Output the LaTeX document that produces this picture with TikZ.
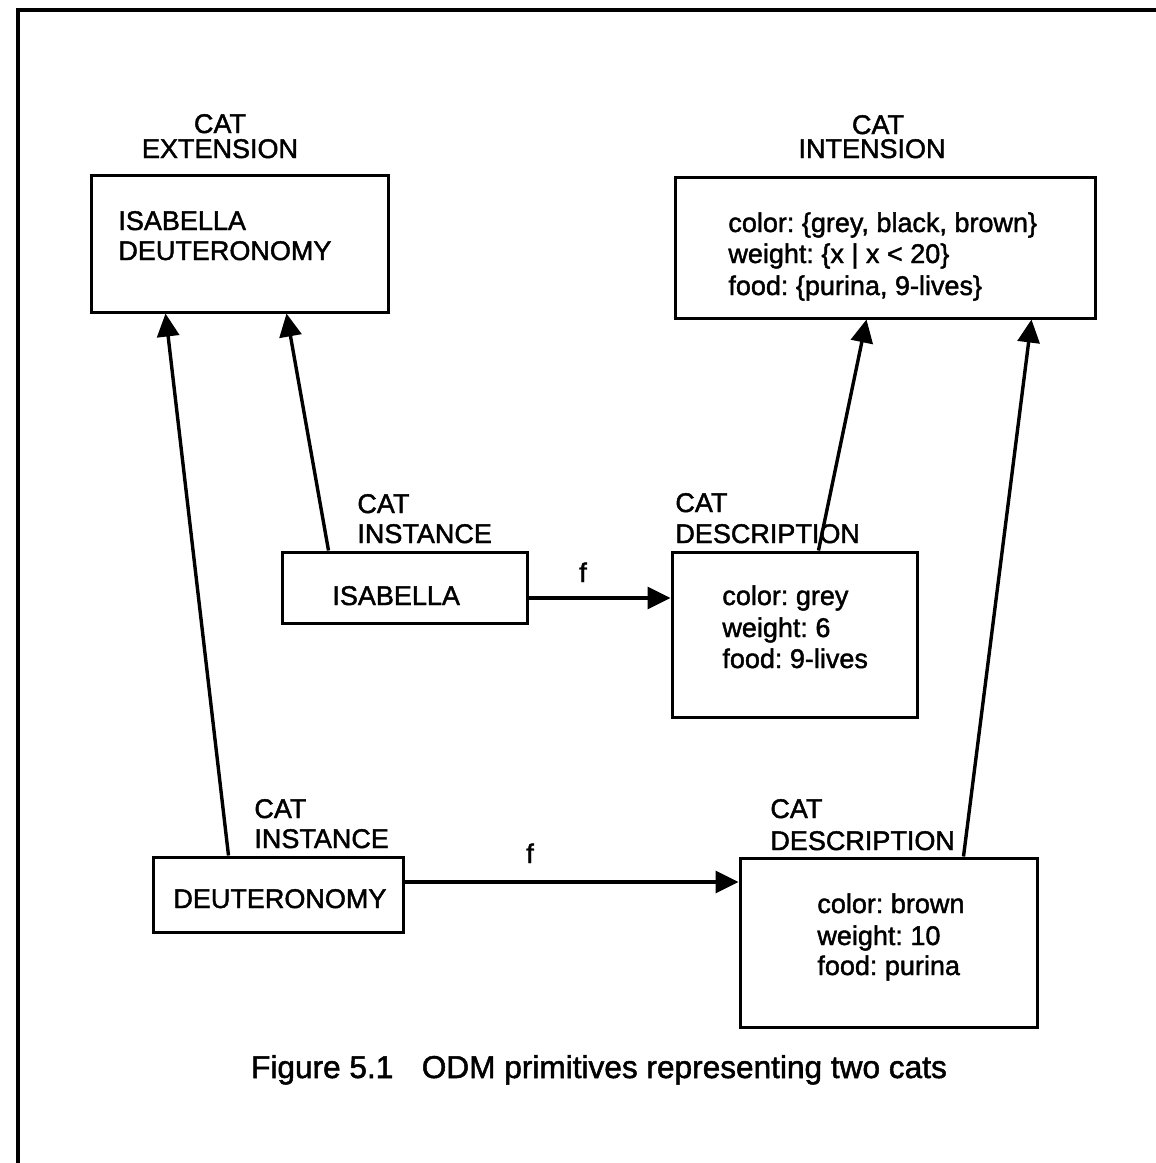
\documentclass[tikz,border=0pt]{standalone}
\usepackage{fontspec}
\setmainfont{Liberation Sans}[FakeBold=1.6]
\usetikzlibrary{arrows.meta}
\frenchspacing
\tikzset{
  box/.style={draw, line width=1.5pt, inner sep=0pt, rectangle},
  txt/.style={font=\fontsize{13.5}{16}\selectfont\frenchspacing, inner sep=0pt, anchor=base west},
  ctxt/.style={font=\fontsize{13.5}{16}\selectfont\frenchspacing, inner sep=0pt, anchor=base},
  arr/.style={line width=1.7pt, -{Triangle[length=11.5pt,width=11pt]}},
  frame/.style={line width=2pt}
}
\begin{document}
\begin{tikzpicture}[x=0.5pt,y=-0.5pt]
\useasboundingbox (0,0) rectangle (1156,1163);
% frame
\coordinate (fl) at (18,1163);
\coordinate (ftl) at (18,10);
\coordinate (ftr) at (1156,10);
\draw[frame] (fl) -- (ftl) -- (ftr);

% boxes
\node[box, minimum width=148.5pt, minimum height=68.5pt] (ext) at (239.5,243.5) {};
\node[box, minimum width=210pt, minimum height=70.5pt] (int) at (885,247.5) {};
\node[box, minimum width=122.5pt, minimum height=35.5pt] (iinst) at (404.5,587.5) {};
\node[box, minimum width=122.5pt, minimum height=82.5pt] (desc1) at (794.5,634.5) {};
\node[box, minimum width=125pt, minimum height=37.5pt] (dinst) at (278,894.5) {};
\node[box, minimum width=148.5pt, minimum height=84.5pt] (desc2) at (888.5,942.5) {};

% box labels
\node[ctxt] (extl1) at (220,133) {CAT};
\node[ctxt] (extl2) at (220,158) {EXTENSION};
\node[ctxt] (intl1) at (878,134) {CAT};
\node[ctxt] (intl2) at (872,158) {INTENSION};
\node[txt] (iinstl1) at (357,513) {CAT};
\node[txt] (iinstl2) at (357,543) {INSTANCE};
\node[txt] (desc1l1) at (675,512) {CAT};
\node[txt] (desc1l2) at (675,543) {DESCRIPTION};
\node[txt] (dinstl1) at (254,818) {CAT};
\node[txt] (dinstl2) at (254,848) {INSTANCE};
\node[txt] (desc2l1) at (770,818) {CAT};
\node[txt] (desc2l2) at (770,850) {DESCRIPTION};

% box contents
\node[txt] (ext1) at (118,230) {ISABELLA};
\node[txt] (ext2) at (118,260) {DEUTERONOMY};
\node[txt] (int1) at (728,232) {color: \{grey, black, brown\}};
\node[txt] (int2) at (728,263) {weight: \{x | x < 20\}};
\node[txt] (int3) at (728,295) {food: \{purina, 9-lives\}};
\node[txt] (iinst1) at (332,605) {ISABELLA};
\node[txt] (d11) at (722,605) {color: grey};
\node[txt] (d12) at (722,637) {weight: 6};
\node[txt] (d13) at (722,668) {food: 9-lives};
\node[txt] (dinst1) at (173,908) {DEUTERONOMY};
\node[txt] (d21) at (817,913) {color: brown};
\node[txt] (d22) at (817,945) {weight: 10};
\node[txt] (d23) at (817,975) {food: purina};

% f arrows
\coordinate (f1s) at ([yshift=-5.25pt]iinst.east);
\draw[arr] (f1s) -- (f1s -| desc1.west);
\node[ctxt] (f1) at (583,582) {f};
\coordinate (f2s) at ([yshift=6.25pt]dinst.east);
\draw[arr] (f2s) -- (f2s -| desc2.west);
\node[ctxt] (f2) at (530,863) {f};

% upward arrows
\draw[arr] ([xshift=38.5pt]dinst.north west) -- ([xshift=38pt]ext.south west);
\draw[arr] ([xshift=24pt]iinst.north west) -- ([xshift=98.5pt]ext.south west);
\draw[arr] ([xshift=74pt]desc1.north west) -- ([xshift=96.5pt]int.south west);
\draw[arr] ([xshift=112.5pt]desc2.north west) -- ([xshift=179pt]int.south west);

% caption
\node[font=\fontsize{15.8}{19}\selectfont\frenchspacing, inner sep=0pt, anchor=base] (cap) at (599,1078) {Figure 5.1\hspace{0.9em}ODM primitives representing two cats};
\end{tikzpicture}
\end{document}
